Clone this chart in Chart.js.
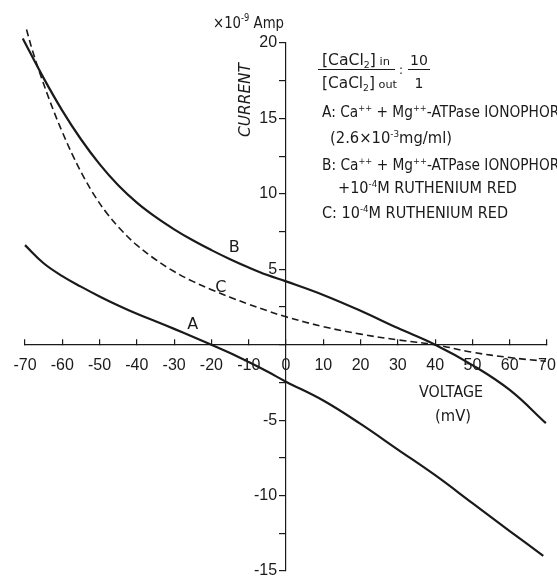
<!DOCTYPE html>
<html>
<head>
<meta charset="utf-8">
<script src="https://cdn.jsdelivr.net/npm/chart.js@4"></script>
<style>
  html, body { margin: 0; padding: 0; background: #fff; }
  #wrap { width: 557px; height: 577px; position: relative; }
</style>
</head>
<body>
<div id="wrap"><canvas id="ivChart"></canvas></div>
<script>
// voltage (mV) / current (x10^-9 A)
const voltA = [-70, -65, -60, -55, -50, -45, -40, -35, -30, -25, -20, -15, -10, -5, 0, 10, 20, 30, 40, 50, 60, 69];
const currA = [6.6, 5.4, 4.55, 3.85, 3.2, 2.6, 2.05, 1.55, 1.05, 0.53, 0, -0.55, -1.15, -1.78, -2.45, -3.7, -5.25, -6.95, -8.65, -10.5, -12.35, -14.0];

const voltB = [-70.6, -65, -60, -55, -50, -45, -40, -35, -30, -25, -20, -15, -10, -5, 0, 10, 20, 30, 40, 50, 60, 69.7];
const currB = [20.3, 17.67, 15.52, 13.62, 11.97, 10.57, 9.42, 8.47, 7.65, 6.92, 6.27, 5.67, 5.12, 4.62, 4.2, 3.3, 2.25, 1.1, 0, -1.35, -3.0, -5.2];

const voltC = [-69.6, -68, -66, -64, -62, -60, -57, -54, -51, -48, -44, -40, -35, -30, -25, -20, -15, -10, -5, 0, 10, 20, 30, 40, 50, 60, 69.7];
const currC = [20.9, 19.5, 18.0, 16.6, 15.3, 14.1, 12.45, 11.0, 9.75, 8.7, 7.55, 6.6, 5.65, 4.85, 4.2, 3.65, 3.15, 2.68, 2.25, 1.85, 1.2, 0.7, 0.32, 0, -0.5, -0.85, -1.1];

// curve letters placed next to the lines
const curveLabels = ['A', 'B', 'C'];
const curveLabelAt = [[-25, 1.3], [-13.9, 6.4], [-17.5, 3.75]];

const pts = (xs, ys) => xs.map((x, i) => ({ x: x, y: ys[i] }));

const INK = '#1a1a1a';
const TXT = '"DejaVu Sans", "Liberation Sans", sans-serif';

// draw text made of pieces: 0 normal, 1 superscript, -1 subscript, 2 small on baseline; squeezed to width w
function rich(ctx, segs, x, y, size, w) {
  const fontFor = s => (s === 0 ? size : Math.round(size * (s === 2 ? 0.75 : 0.62))) + 'px ' + TXT;
  let natural = 0;
  segs.forEach(([t, s]) => { ctx.font = fontFor(s); natural += ctx.measureText(t).width; });
  const sx = w ? w / natural : 1;
  ctx.save();
  ctx.translate(x, y);
  ctx.scale(sx, 1);
  let cx = 0;
  segs.forEach(([t, s]) => {
    ctx.font = fontFor(s);
    const dy = s === 1 ? -size * 0.42 : (s === -1 ? size * 0.22 : 0);
    ctx.fillText(t, cx, dy);
    cx += ctx.measureText(t).width;
  });
  ctx.restore();
}

const notes = {
  id: 'notes',
  afterDraw(chart) {
    const ctx = chart.ctx;
    const xs = chart.scales.x, ys = chart.scales.y;
    ctx.save();
    ctx.fillStyle = INK;
    ctx.strokeStyle = INK;

    // curve letters
    ctx.font = '16px ' + TXT;
    ctx.textAlign = 'center';
    ctx.textBaseline = 'middle';
    curveLabels.forEach((l, i) => {
      const p = curveLabelAt[i];
      ctx.fillText(l, xs.getPixelForValue(p[0]), ys.getPixelForValue(p[1]));
    });
    ctx.textAlign = 'left';
    ctx.textBaseline = 'alphabetic';

    // unit + axis names
    rich(ctx, [['\u00d710', 0], ['-9', 1], [' Amp', 0]], 213, 28, 16, 71);
    rich(ctx, [['VOLTAGE', 0]], 419, 397, 15, 64);
    rich(ctx, [['(mV)', 0]], 435, 421, 15, 36);

    ctx.save();
    ctx.translate(250, 137);
    ctx.rotate(-Math.PI / 2);
    ctx.font = 'italic 16px ' + TXT;
    const cw = ctx.measureText('CURRENT').width;
    ctx.scale(74 / cw, 1);
    ctx.fillText('CURRENT', 0, 0);
    ctx.restore();

    // concentration ratio
    rich(ctx, [['[CaCl', 0], ['2', -1], [']', 0], [' in', 2]], 322, 65, 15, 68);
    rich(ctx, [['[CaCl', 0], ['2', -1], [']', 0], [' out', 2]], 322, 88, 15, 75);
    ctx.lineWidth = 1;
    ctx.beginPath();
    ctx.moveTo(318, 69.5); ctx.lineTo(395, 69.5);
    ctx.moveTo(408, 69.5); ctx.lineTo(430, 69.5);
    ctx.stroke();
    ctx.font = '12px ' + TXT;
    ctx.fillText(':', 399, 74);
    ctx.textAlign = 'center';
    ctx.font = '14px ' + TXT;
    ctx.fillText('10', 419, 65);
    ctx.fillText('1', 419, 88);
    ctx.textAlign = 'left';

    // key
    rich(ctx, [['A: Ca', 0], ['++', 1], [' + Mg', 0], ['++', 1], ['-ATPase IONOPHORE', 0]], 322, 117, 15, 246);
    rich(ctx, [['(2.6\u00d710', 0], ['-3', 1], ['mg/ml)', 0]], 330, 143, 15, 122);
    rich(ctx, [['B: Ca', 0], ['++', 1], [' + Mg', 0], ['++', 1], ['-ATPase IONOPHORE', 0]], 322, 170, 15, 246);
    rich(ctx, [['+10', 0], ['-4', 1], ['M RUTHENIUM RED', 0]], 338, 193, 15, 179);
    rich(ctx, [['C: 10', 0], ['-4', 1], ['M RUTHENIUM RED', 0]], 322, 218, 15, 186);
    ctx.restore();
  }
};

const zeroPad = s => { s.paddingTop = 0; s.paddingBottom = 0; s.paddingLeft = 0; s.paddingRight = 0; };

new Chart(document.getElementById('ivChart'), {
  type: 'line',
  data: {
    datasets: [
      { label: 'A', data: pts(voltA, currA), borderColor: INK, borderWidth: 2.2, pointRadius: 0, tension: 0.4, clip: false },
      { label: 'B', data: pts(voltB, currB), borderColor: INK, borderWidth: 2.2, pointRadius: 0, tension: 0.4, clip: false },
      { label: 'C', data: pts(voltC, currC), borderColor: INK, borderWidth: 1.6, borderDash: [7, 4], pointRadius: 0, tension: 0.4, clip: false }
    ]
  },
  options: {
    responsive: true,
    maintainAspectRatio: false,
    animation: false,
    layout: { padding: { left: 25, right: 10, top: 43, bottom: 6 } },
    plugins: { legend: { display: false }, tooltip: { enabled: false } },
    scales: {
      x: {
        type: 'linear',
        position: { y: 0 },
        min: -70,
        max: 70,
        afterFit: zeroPad,
        border: { display: true, color: INK, width: 1.2 },
        grid: { drawOnChartArea: false, drawTicks: true, tickLength: -6, color: INK, lineWidth: 1.2 },
        ticks: { stepSize: 10, autoSkip: false, maxRotation: 0, padding: 17, color: INK, font: { family: 'Liberation Sans', size: 16 } }
      },
      y: {
        type: 'linear',
        position: { x: 0 },
        min: -15,
        max: 20,
        afterFit: zeroPad,
        border: { display: true, color: INK, width: 1.2 },
        grid: { drawOnChartArea: false, drawTicks: true, tickLength: 6, color: INK, lineWidth: 1.2 },
        ticks: {
          stepSize: 2.5,
          autoSkip: false,
          color: INK,
          font: { family: 'Liberation Sans', size: 16 },
          // labels sit right at the axis line here, so pad them with spaces
          callback: v => (v % 5 === 0 && v !== 0) ? String(v) + '  ' : ''
        }
      }
    }
  },
  plugins: [notes]
});
</script>
</body>
</html>
